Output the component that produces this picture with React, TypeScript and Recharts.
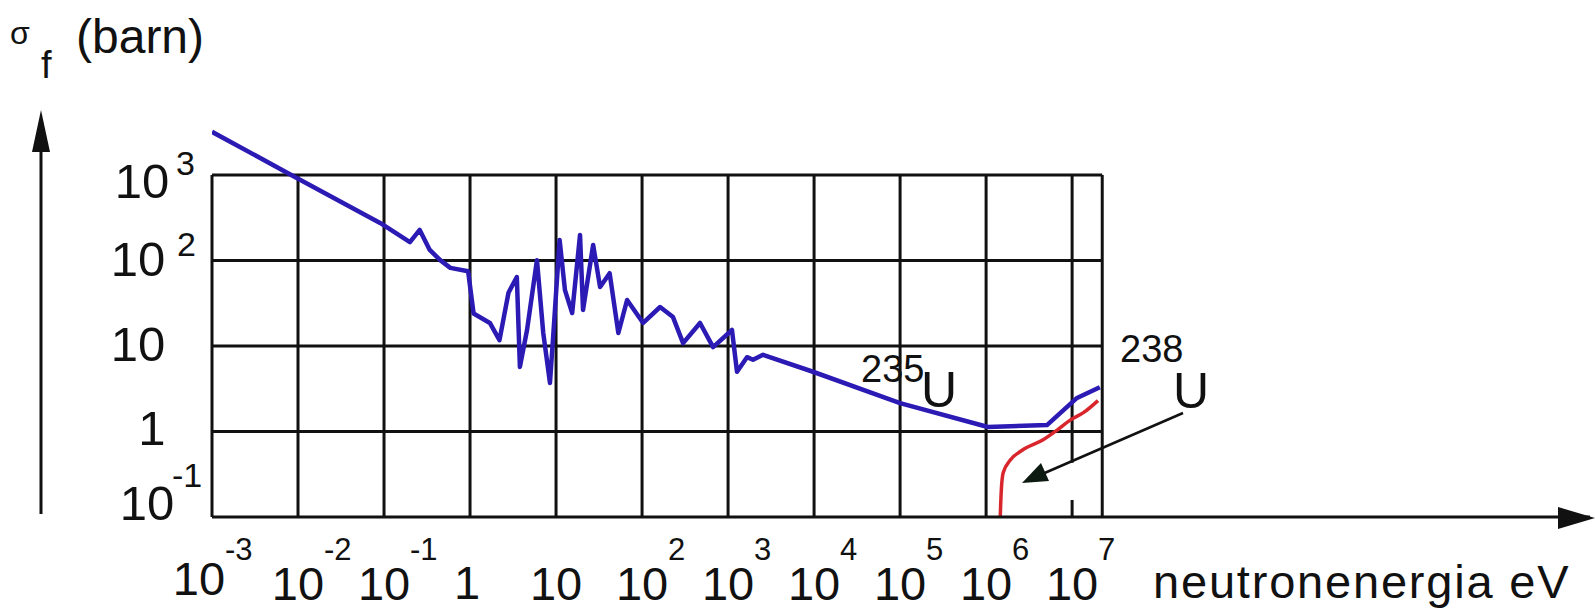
import { LineChart, Line, XAxis, YAxis, ReferenceLine } from 'recharts';

// U-235 fission cross section (eV, barn)
const u235Energy = [
  0.001, 0.0092, 0.09, 0.2, 0.26, 0.34, 0.45, 0.59, 0.95, 1.1, 1.7, 2.2, 2.8, 3.5, 3.8, 4.6,
  6.0, 7.1, 8.5, 9.2, 11, 12.7, 15.4, 19, 20.6, 27, 32.5, 42, 53, 67, 103, 162, 229, 300, 472,
  670, 1110, 1270, 1660, 1950, 2550, 9700, 1.0e5, 1.05e6, 5.1e6, 1.14e7, 2.1e7,
];
const u235Sigma = [
  3200, 950, 275, 164, 228, 133, 101, 82, 75, 24, 18.6, 11.7, 42, 64, 5.7, 15.4, 101, 14.2,
  3.7, 11.7, 174, 45, 24.3, 199, 26.4, 152, 49, 71, 14.2, 34.5, 18.6, 28.6, 21.8, 10.8, 18.6,
  9.7, 15.4, 5.0, 7.4, 6.9, 7.9, 5.0, 2.15, 1.13, 1.19, 2.47, 3.3,
];

// U-238 (threshold fission)
const u238Energy = [1.46e6, 1.5e6, 1.58e6, 1.9e6, 2.6e6, 4.6e6, 6.7e6, 9.5e6, 1.34e7, 2.0e7];
const u238Sigma = [0.1, 0.2, 0.33, 0.46, 0.6, 0.8, 1.04, 1.36, 1.65, 2.3];

const xTicks = [1e-3, 1e-2, 0.1, 1, 10, 100, 1e3, 1e4, 1e5, 1e6, 1e7];
const yTicks = [0.1, 1, 10, 100, 1000];

const boxRight = 2.24e7; // right edge of the grid box
const xMax = 1.05e13; // axis arrow runs past the box
const yMax = 3548;

const FONT = "'Liberation Sans', Arial, Helvetica, sans-serif";
const INK = '#111';

const u235Data = u235Energy.map((energy, i) => ({ energy, sigma: u235Sigma[i] }));
const u238Data = u238Energy.map((energy, i) => ({ energy, sigma: u238Sigma[i] }));

const XTick = (props: any) => {
  const { x, y, payload } = props;
  const e = Math.round(Math.log10(payload.value));
  const dx = e === -3 ? -13 : 0;
  const dy = e === -3 ? -5 : 0;
  if (e === 0) {
    return (
      <text x={x - 3} y={y + 82} fontSize={47} textAnchor='middle' fontFamily={FONT} fill={INK}>
        1
      </text>
    );
  }
  return (
    <g fontFamily={FONT} fill={INK}>
      <text x={x + dx} y={y + 83 + dy} fontSize={47} textAnchor='middle'>
        10
      </text>
      {e !== 1 && (
        <text x={x + dx + 26} y={y + 43} fontSize={31}>
          {e}
        </text>
      )}
    </g>
  );
};

// small per-label nudges, the original labels are hand placed
const yLabelPos: Record<number, { cx: number; by: number; ex?: number; ey?: number }> = {
  3: { cx: -70, by: 23, ex: -36, ey: 0 },
  2: { cx: -74, by: 15, ex: -35, ey: -5 },
  1: { cx: -74, by: 15 },
  0: { cx: -60, by: 13 },
  [-1]: { cx: -65, by: 3, ex: -40, ey: -30 },
};

const YTick = (props: any) => {
  const { x, y, payload } = props;
  const e = Math.round(Math.log10(payload.value));
  const p = yLabelPos[e];
  return (
    <g fontFamily={FONT} fill={INK}>
      <text x={x + p.cx} y={y + p.by} fontSize={49} textAnchor='middle'>
        {e === 0 ? '1' : '10'}
      </text>
      {p.ex !== undefined && (
        <text x={x + p.ex} y={y + (p.ey ?? 0)} fontSize={34}>
          {e}
        </text>
      )}
    </g>
  );
};

const gridStroke = { stroke: INK, strokeWidth: 3 };

const App = () => {
  return (
    <div style={{ position: 'relative', width: 1595, height: 611, background: '#fff' }}>
      <style>{'body{margin:0;background:#fff}'}</style>
      <LineChart width={1595} height={611} margin={{ top: 128, right: 5, bottom: 0, left: 0 }}>
        <XAxis
          dataKey='energy'
          type='number'
          scale='log'
          domain={[1e-3, xMax]}
          ticks={xTicks}
          interval={0}
          allowDataOverflow
          axisLine={{ stroke: INK, strokeWidth: 3 }}
          tickLine={false}
          tickSize={0}
          tickMargin={0}
          height={94}
          tick={<XTick />}
        />
        <YAxis
          type='number'
          scale='log'
          domain={[0.1, yMax]}
          ticks={yTicks}
          interval={0}
          allowDataOverflow
          axisLine={false}
          tickLine={false}
          tickSize={0}
          tickMargin={0}
          width={212}
          tick={<YTick />}
        />
        {/* grid box */}
        {xTicks.slice(0, -1).map((v) => (
          <ReferenceLine key={'v' + v} segment={[{ x: v, y: 0.1 }, { x: v, y: 1000 }]} {...gridStroke} />
        ))}
        <ReferenceLine segment={[{ x: 1e7, y: 0.43 }, { x: 1e7, y: 1000 }]} {...gridStroke} />
        <ReferenceLine segment={[{ x: 1e7, y: 0.1 }, { x: 1e7, y: 0.158 }]} {...gridStroke} />
        <ReferenceLine segment={[{ x: boxRight, y: 0.1 }, { x: boxRight, y: 1000 }]} {...gridStroke} />
        {yTicks.slice(1).map((v) => (
          <ReferenceLine key={'h' + v} segment={[{ x: 1e-3, y: v }, { x: boxRight, y: v }]} {...gridStroke} />
        ))}
        <Line
          data={u235Data}
          dataKey='sigma'
          type='linear'
          stroke='#2b1ab4'
          strokeWidth={4.5}
          strokeLinejoin='round'
          dot={false}
          isAnimationActive={false}
        />
        <Line
          data={u238Data}
          dataKey='sigma'
          type='monotone'
          stroke='#d8262c'
          strokeWidth={3.5}
          dot={false}
          isAnimationActive={false}
        />
      </LineChart>

      <svg
        width={1595}
        height={611}
        style={{ position: 'absolute', left: 0, top: 0, pointerEvents: 'none' }}
        fontFamily={FONT}
        fill={INK}
      >
        {/* y axis arrow */}
        <line x1={41} y1={514} x2={41} y2={145} stroke={INK} strokeWidth={3} />
        <polygon points='41,110 32,152 50,152' fill={INK} />
        {/* x axis arrow head */}
        <polygon points='1595,518 1558,507 1558,529' fill={INK} />

        <text x={10} y={44} fontSize={32}>σ</text>
        <text x={41} y={78} fontSize={38}>f</text>
        <text x={76} y={53} fontSize={48}>(barn)</text>

        <text x={1153} y={598} fontSize={47} letterSpacing={1.8}>neutronenergia eV</text>

        <text x={861} y={382} fontSize={38}>235</text>
        <text x={921} y={407} fontSize={50}>U</text>
        <text x={1120} y={362} fontSize={38}>238</text>
        <text x={1173} y={408} fontSize={50}>U</text>
        {/* arrow pointing at the 238U curve */}
        <line x1={1183} y1={413} x2={1040} y2={475} stroke={INK} strokeWidth={2.5} />
        <polygon points='1022,483 1049,481 1041,463' fill='#0d1a12' />
      </svg>
    </div>
  );
};

export default App;
